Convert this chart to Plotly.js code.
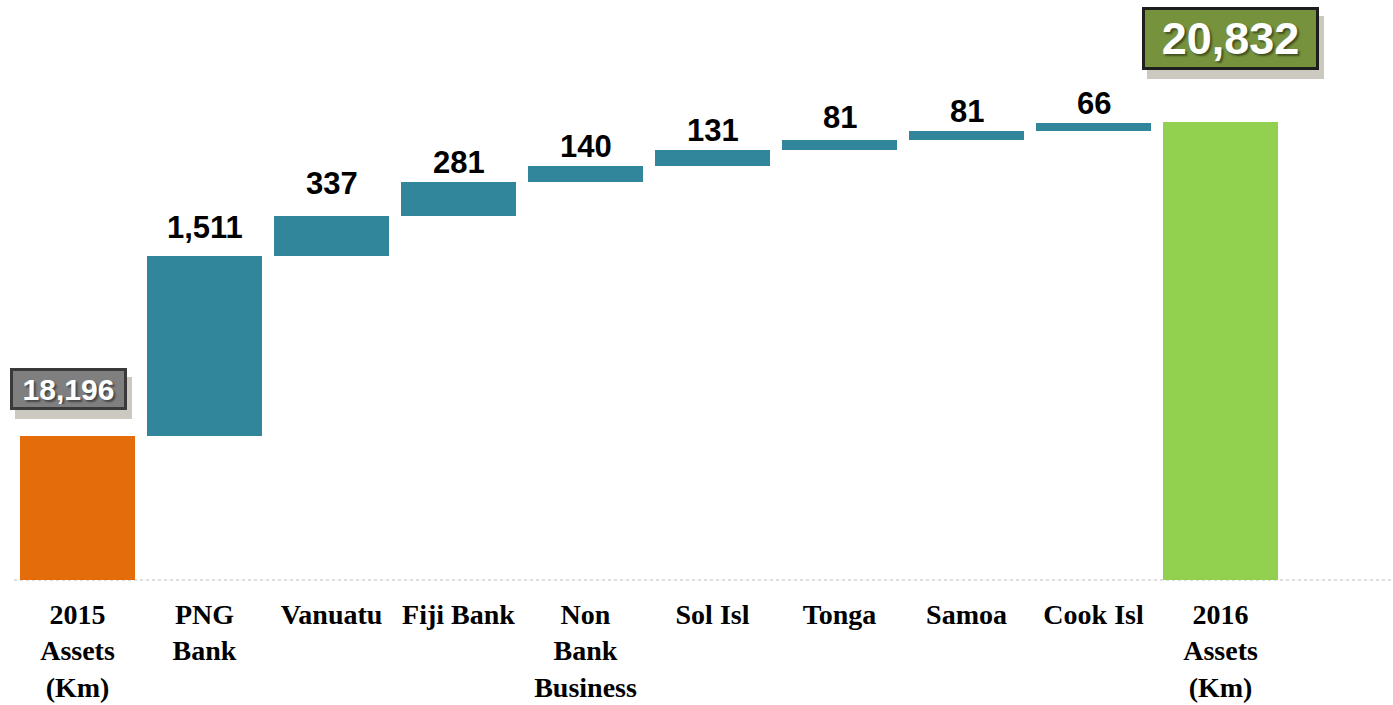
<!DOCTYPE html>
<html>
<head>
<meta charset="utf-8">
<script src="https://cdn.plot.ly/plotly-3.0.1.min.js"></script>
<style>html,body{margin:0;padding:0;background:#fff;}#chart{width:1393px;height:705px;}</style>
</head>
<body>
<div id="chart"></div>
<script>
const categories = ["2015<br>Assets<br>(Km)", "PNG<br>Bank", "Vanuatu", "Fiji Bank", "Non<br>Bank<br>Business", "Sol Isl", "Tonga", "Samoa", "Cook Isl", "2016<br>Assets<br>(Km)"];
const measures = ["total", "change", "change", "change", "change", "change", "change", "change", "change", "total"];
const values = [18196, 1511, 337, 281, 140, 131, 81, 81, 66, 20832];
const labels = ["18,196", "1,511", "337", "281", "140", "131", "81", "81", "66", "20,832"];
const colors = ["#E46C0A", "#31869B", "#31869B", "#31869B", "#31869B", "#31869B", "#31869B", "#31869B", "#31869B", "#92D050"];
// label offsets (pixels) above each bar, as placed in the original slide
const labelShift = [0, 9, 13, 0, 0, 0, 3, 0, 0, 0];

// compute bases for floating bars
const bases = [], tops = [];
let running = 0;
values.forEach((v, i) => {
  if (measures[i] === "total") { bases.push(0); running = v; tops.push(v); }
  else { bases.push(running); running += v; tops.push(running); }
});
const xs = categories.map((c, i) => i);

const trace = {
  type: "bar",
  x: xs,
  y: values,
  base: bases,
  width: 0.91,
  marker: {color: colors, line: {width: 0}},
  hoverinfo: "none"
};

const annotations = [];
values.forEach((v, i) => {
  if (measures[i] === "change") {
    annotations.push({
      x: i, y: tops[i], xref: "x", yref: "y",
      text: labels[i], showarrow: false, yanchor: "bottom", yshift: labelShift[i],
      font: {family: "Liberation Sans, Arial, sans-serif", size: 31, color: "#000", weight: "bold"}
    });
  }
});
// boxed totals: shadows then boxes
const boxes = [
  {i: 0, xshift: -9, yshift: 26, size: 30, bg: "#7F7F7F", border: "#3A3A3A", w: 105, h: 30, pad: 3},
  {i: 9, xshift: 10, yshift: 52, size: 45, bg: "#76923C", border: "#1E1E1E", w: 165, h: 51, pad: 3}
];
boxes.forEach(b => {
  annotations.push({
    x: b.i, y: tops[b.i], xref: "x", yref: "y", text: " ", showarrow: false,
    yanchor: "bottom", xshift: b.xshift + 5, yshift: b.yshift - 9,
    width: b.w, height: b.h,
    font: {family: "Liberation Sans, Arial, sans-serif", size: b.size, color: "rgba(0,0,0,0)"},
    bgcolor: "rgba(70,60,30,0.28)", borderpad: b.pad + 3, borderwidth: 0
  });
});
boxes.forEach(b => {
  annotations.push({
    x: b.i, y: tops[b.i], xref: "x", yref: "y", text: labels[b.i], showarrow: false,
    yanchor: "bottom", xshift: b.xshift, yshift: b.yshift,
    width: b.w, height: b.h,
    font: {family: "Liberation Sans, Arial, sans-serif", size: b.size, color: "#FFFFFF", weight: "bold",
           shadow: "2px 2px 2px rgba(0,0,0,0.45)"},
    bgcolor: b.bg, bordercolor: b.border, borderwidth: 3, borderpad: b.pad
  });
});

const layout = {
  width: 1393, height: 705,
  margin: {l: 14, r: 0, t: 0, b: 125, pad: 0},
  paper_bgcolor: "#FFFFFF", plot_bgcolor: "#FFFFFF",
  showlegend: false,
  bargap: 0,
  xaxis: {
    range: [-0.5, 10.358],
    tickmode: "array", tickvals: xs, ticktext: categories,
    showgrid: false, zeroline: false, showline: false, ticks: "",
    ticklabelstandoff: 15,
    tickfont: {family: "Liberation Serif, Times New Roman, serif", size: 28, color: "#000", weight: "bold"},
    fixedrange: true
  },
  yaxis: {
    range: [16987, 21856],
    showgrid: false, zeroline: false, showline: false, showticklabels: false, ticks: "",
    fixedrange: true
  },
  shapes: [{
    type: "line", xref: "paper", yref: "paper", x0: 0, x1: 1, y0: 0, y1: 0,
    line: {color: "#BDBDBD", width: 1, dash: "dot"}, layer: "below"
  }],
  annotations: annotations
};

Plotly.newPlot("chart", [trace], layout, {staticPlot: true, displayModeBar: false});
</script>
</body>
</html>
